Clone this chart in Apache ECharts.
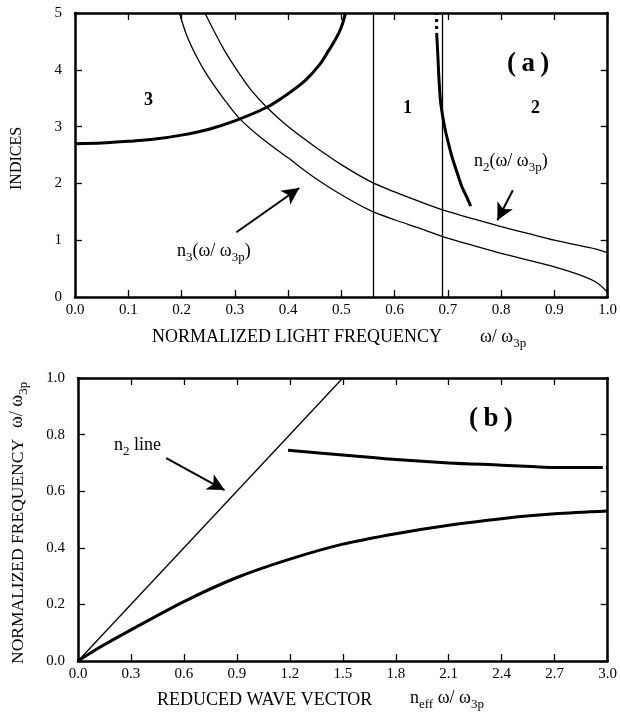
<!DOCTYPE html>
<html><head><meta charset="utf-8">
<script src="https://cdn.jsdelivr.net/npm/echarts@6/dist/echarts.min.js"></script>
<style>html,body{margin:0;padding:0;background:#fff}#c{width:620px;height:717px}</style>
</head><body><div id="c"></div>
<script>
// ---- Panel (a) data ----
const aXTicks = [0, 0.1, 0.2, 0.3, 0.4, 0.5, 0.6, 0.7, 0.8, 0.9, 1.0];
const aYTicks = [0, 1, 2, 3, 4, 5];
const curve3X = [0, 0.05, 0.1, 0.15, 0.2, 0.25, 0.3, 0.36, 0.4, 0.433, 0.46, 0.477, 0.49, 0.5, 0.508];
const curve3Y = [2.7, 2.71, 2.74, 2.78, 2.85, 2.95, 3.1, 3.34, 3.58, 3.82, 4.1, 4.35, 4.55, 4.75, 5.0];
const n2X = [0.244, 0.26, 0.28, 0.3, 0.33, 0.36, 0.4, 0.45, 0.5, 0.555, 0.6, 0.65, 0.695, 0.75, 0.8, 0.85, 0.9, 0.95, 0.98, 1.0];
const n2Y = [5.0, 4.7, 4.35, 4.05, 3.65, 3.34, 3.0, 2.65, 2.33, 2.03, 1.85, 1.67, 1.52, 1.37, 1.24, 1.12, 1.0, 0.9, 0.84, 0.78];
const n3X = [0.196, 0.21, 0.23, 0.25, 0.28, 0.308, 0.35, 0.4, 0.45, 0.5, 0.555, 0.6, 0.65, 0.695, 0.75, 0.8, 0.85, 0.9, 0.95, 0.98, 1.0];
const n3Y = [5.0, 4.6, 4.2, 3.88, 3.48, 3.15, 2.8, 2.45, 2.1, 1.8, 1.52, 1.36, 1.2, 1.05, 0.9, 0.77, 0.65, 0.53, 0.38, 0.25, 0.08];
const branchX = [0.679, 0.681, 0.683, 0.686, 0.69, 0.695, 0.7, 0.708, 0.717, 0.726, 0.735, 0.743];
const branchY = [4.65, 4.3, 3.9, 3.47, 3.2, 2.95, 2.75, 2.46, 2.2, 1.95, 1.77, 1.6];
const branchDotX = [0.679, 0.679];
const branchDotY = [4.72, 5.0];
const aVLines = [0.555, 0.695];
const arrowN3 = [[0.303, 1.14], [0.421, 1.92]];
const arrowN2 = [[0.822, 1.88], [0.793, 1.35]];

// ---- Panel (b) data ----
const bXTicks = [0, 0.3, 0.6, 0.9, 1.2, 1.5, 1.8, 2.1, 2.4, 2.7, 3.0];
const bYTicks = [0, 0.2, 0.4, 0.6, 0.8, 1.0];
const n2LineX = [0, 1.5];
const n2LineY = [0, 1.0];
const lowerX = [0, 0.1, 0.3, 0.6, 0.9, 1.2, 1.5, 1.8, 2.1, 2.4, 2.7, 3.0];
const lowerY = [0, 0.04, 0.11, 0.21, 0.295, 0.36, 0.413, 0.45, 0.48, 0.503, 0.52, 0.53];
const upperX = [1.19, 1.5, 1.8, 2.1, 2.4, 2.6, 2.7, 2.95];
const upperY = [0.745, 0.728, 0.712, 0.7, 0.692, 0.686, 0.684, 0.684];
const upperTailX = [2.95, 3.0];
const upperTailY = [0.684, 0.684];
const arrowB = [[0.5, 0.717], [0.83, 0.604]];

const zip = (xs, ys) => xs.map((x, i) => [x, ys[i]]);
const FONT = '"Liberation Serif", "Times New Roman", serif';

function axisPair(gi, min, max, interval, isX, showLabel, pos, fmt) {
  return {
    type: 'value', gridIndex: gi, min: min, max: max, interval: interval, position: pos,
    axisLine: { show: true, onZero: false, lineStyle: { color: '#000', width: 2.5 } },
    axisTick: { show: true, inside: true, length: 7, lineStyle: { color: '#000', width: 1.3 } },
    axisLabel: { show: showLabel, color: '#000', fontFamily: FONT, fontSize: 15, margin: isX ? 6 : 13, formatter: fmt },
    splitLine: { show: false }
  };
}
const f1 = v => v.toFixed(1);
const f0 = v => String(Math.round(v));

const thin = { color: '#000', width: 1.3 };
const thick = { color: '#000', width: 3 };
function line(name, xi, yi, data, ls) {
  return { name: name, type: 'line', xAxisIndex: xi, yAxisIndex: yi, data: data, showSymbol: false, symbol: 'none', smooth: 0.3, lineStyle: ls, silent: true, animation: false, z: 3 };
}
function arrow(xi, yi, seg) {
  return {
    type: 'line', xAxisIndex: xi, yAxisIndex: yi, data: [], silent: true, animation: false,
    markLine: {
      silent: true, animation: false, symbol: ['none', 'arrow'], symbolSize: [13, 17],
      label: { show: false },
      lineStyle: { color: '#000', width: 2, type: 'solid' },
      data: [[{ coord: seg[0] }, { coord: seg[1] }]]
    }
  };
}

const sub = { fontFamily: FONT, fontSize: 13, lineHeight: 32, color: '#000' };
const norm = { fontFamily: FONT, fontSize: 18, lineHeight: 20, verticalAlign: 'top', color: '#000' };
function txt(left, top, text, opts) {
  return { type: 'text', left: left, top: top, style: Object.assign({ text: text, fill: '#000', font: '18px ' + FONT }, opts || {}) };
}

const option = {
  backgroundColor: '#fff',
  animation: false,
  grid: [
    { left: 75, top: 13, width: 534, height: 284 },
    { left: 78, top: 378, width: 531, height: 283 }
  ],
  xAxis: [
    axisPair(0, 0, 1, 0.1, true, true, 'bottom', f1),
    axisPair(0, 0, 1, 0.1, true, false, 'top', f1),
    axisPair(1, 0, 3, 0.3, true, true, 'bottom', f1),
    axisPair(1, 0, 3, 0.3, true, false, 'top', f1)
  ],
  yAxis: [
    axisPair(0, 0, 5, 1, false, true, 'left', f0),
    axisPair(0, 0, 5, 1, false, false, 'right', f0),
    axisPair(1, 0, 1, 0.2, false, true, 'left', f1),
    axisPair(1, 0, 1, 0.2, false, false, 'right', f1)
  ],
  series: [
    line('curve3', 0, 0, zip(curve3X, curve3Y), thick),
    line('n2', 0, 0, zip(n2X, n2Y), thin),
    line('n3', 0, 0, zip(n3X, n3Y), thin),
    Object.assign(line('branch', 0, 0, zip(branchX, branchY), thick), { smooth: 0.2 }),
    Object.assign(line('branchDots', 0, 0, zip(branchDotX, branchDotY), { color: '#000', width: 3, type: [3, 4] }), { smooth: false }),
    {
      type: 'line', xAxisIndex: 0, yAxisIndex: 0, data: [], silent: true, animation: false,
      markLine: {
        silent: true, animation: false, symbol: ['none', 'none'], label: { show: false },
        lineStyle: { color: '#000', width: 1.3, type: 'solid' },
        data: aVLines.map(v => ({ xAxis: v }))
      }
    },
    arrow(0, 0, arrowN3),
    arrow(0, 0, arrowN2),
    Object.assign(line('n2line', 2, 2, zip(n2LineX, n2LineY), thin), { smooth: false }),
    line('lower', 2, 2, zip(lowerX, lowerY), thick),
    line('upper', 2, 2, zip(upperX, upperY), thick),
    Object.assign(line('upperTail', 2, 2, zip(upperTailX, upperTailY), { color: '#000', width: 3, type: [4, 3] }), { smooth: false }),
    arrow(2, 2, arrowB)
  ],
  graphic: [
    // panel (a)
    txt(507, 51, '(\u2009a\u2009)', { font: 'bold 27px ' + FONT }),
    txt(144, 91, '3', { font: 'bold 18px ' + FONT }),
    txt(403, 99, '1', { font: 'bold 18px ' + FONT }),
    txt(531, 99, '2', { font: 'bold 18px ' + FONT }),
    { type: 'text', left: 474, top: 152, style: { text: '{n|n}{s|2}{n|(ω/ ω}{s|3p}{n|)}', rich: { n: norm, s: sub } } },
    { type: 'text', left: 177, top: 242, style: { text: '{n|n}{s|3}{n|(ω/ ω}{s|3p}{n|)}', rich: { n: norm, s: sub } } },
    txt(152, 328, 'NORMALIZED LIGHT FREQUENCY'),
    { type: 'text', left: 480, top: 328, style: { text: '{n|ω/ ω}{s|3p}', rich: { n: norm, s: sub } } },
    { type: 'text', x: 9, y: 190, rotation: Math.PI / 2, style: { text: 'INDICES', fill: '#000', font: '16px ' + FONT } },
    // panel (b)
    txt(469, 406, '(\u2009b\u2009)', { font: 'bold 27px ' + FONT }),
    { type: 'text', left: 114, top: 436, style: { text: '{n|n}{s|2}{n| line}', rich: { n: norm, s: sub } } },
    txt(157, 691, 'REDUCED WAVE VECTOR'),
    { type: 'text', left: 410, top: 689, style: { text: '{n|n}{s|eff}{n| ω/ ω}{s|3p}', rich: { n: norm, s: sub } } },
    { type: 'text', x: 9, y: 664, rotation: Math.PI / 2, style: { text: 'NORMALIZED FREQUENCY', fill: '#000', font: '17.5px ' + FONT } },
    { type: 'text', x: 8, y: 428, rotation: Math.PI / 2, style: { text: '{n|ω/ ω}{s|3p}', rich: { n: norm, s: sub } } }
  ]
};
const chart = echarts.init(document.getElementById('c'), null, { renderer: 'canvas', width: 620, height: 717 });
chart.setOption(option);
</script></body></html>
